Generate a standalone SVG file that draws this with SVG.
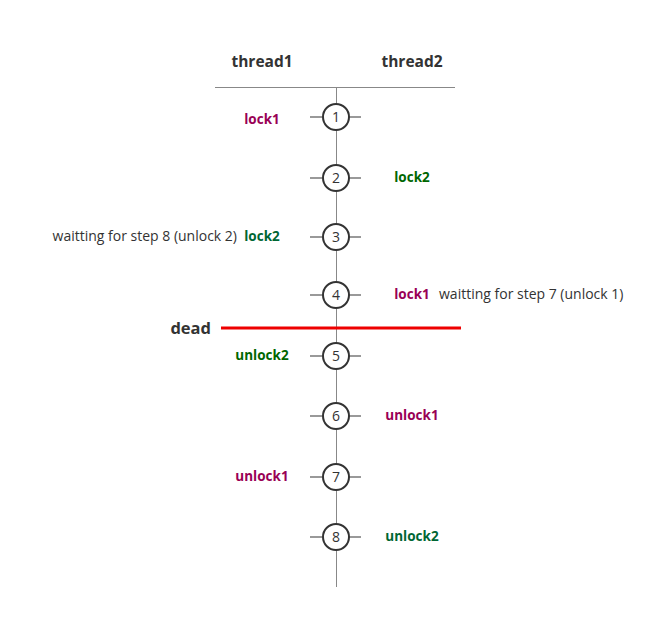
<svg xmlns="http://www.w3.org/2000/svg" width="660" height="620" viewBox="0 0 660 620">
<style>
text{font-family:"Open Sans","Noto Sans","DejaVu Sans",sans-serif}
.hd{font-size:15.5px;font-weight:bold;fill:#333;text-anchor:middle}
.lb{font-size:13.5px;font-weight:bold;text-anchor:middle}
.m{fill:#990055}
.g{fill:#006600}
.g2{fill:#006633}
.w{font-size:14px;fill:#333}
.n{font-size:14px;fill:#333;text-anchor:middle}
.st circle{fill:#fff;stroke:#333;stroke-width:2}
.ax{stroke:#888;stroke-width:1;fill:none}
.tk{stroke:#777;stroke-width:1.5}
</style>
<rect width="660" height="620" fill="#fff"/>
<g id="connectors">
<line class="ax" x1="215" y1="87.5" x2="455" y2="87.5"/>
<line class="ax" x1="336.5" y1="87" x2="336.5" y2="587"/>
<g class="tk">
<line x1="310" y1="117" x2="322" y2="117"/><line x1="349" y1="117" x2="361" y2="117"/>
<line x1="310" y1="178" x2="322" y2="178"/><line x1="349" y1="178" x2="361" y2="178"/>
<line x1="310" y1="237" x2="322" y2="237"/><line x1="349" y1="237" x2="361" y2="237"/>
<line x1="310" y1="295" x2="322" y2="295"/><line x1="349" y1="295" x2="361" y2="295"/>
<line x1="310" y1="356" x2="322" y2="356"/><line x1="349" y1="356" x2="361" y2="356"/>
<line x1="310" y1="416" x2="322" y2="416"/><line x1="349" y1="416" x2="361" y2="416"/>
<line x1="310" y1="477" x2="322" y2="477"/><line x1="349" y1="477" x2="361" y2="477"/>
<line x1="310" y1="537" x2="322" y2="537"/><line x1="349" y1="537" x2="361" y2="537"/>
</g>
<line x1="221" y1="328" x2="461" y2="328" stroke="#e00" stroke-width="3"/>
</g>
<g id="headers">
<text class="hd" x="262" y="67">thread1</text>
<text class="hd" x="412" y="67">thread2</text>
<text x="211" y="334" font-size="16.5" font-weight="bold" fill="#333" text-anchor="end">dead</text>
</g>
<g id="step1" class="st"><circle cx="336" cy="117" r="13"/><text class="n" x="336" y="122">1</text><text class="lb m" x="262" y="124">lock1</text></g>
<g id="step2" class="st"><circle cx="336" cy="178" r="13"/><text class="n" x="336" y="183">2</text><text class="lb g" x="412" y="182">lock2</text></g>
<g id="step3" class="st"><circle cx="336" cy="237" r="13"/><text class="n" x="336" y="242">3</text><text class="lb g2" x="262" y="241">lock2</text><text class="w" x="237" y="241" text-anchor="end">waitting for step 8 (unlock 2)</text></g>
<g id="step4" class="st"><circle cx="336" cy="295" r="13"/><text class="n" x="336" y="300">4</text><text class="lb m" x="412" y="299">lock1</text><text class="w" x="439" y="299">waitting for step 7 (unlock 1)</text></g>
<g id="step5" class="st"><circle cx="336" cy="356" r="13"/><text class="n" x="336" y="361">5</text><text class="lb g" x="262" y="360">unlock2</text></g>
<g id="step6" class="st"><circle cx="336" cy="416" r="13"/><text class="n" x="336" y="421">6</text><text class="lb m" x="412" y="420">unlock1</text></g>
<g id="step7" class="st"><circle cx="336" cy="477" r="13"/><text class="n" x="336" y="482">7</text><text class="lb m" x="262" y="481">unlock1</text></g>
<g id="step8" class="st"><circle cx="336" cy="537" r="13"/><text class="n" x="336" y="542">8</text><text class="lb g2" x="412" y="541">unlock2</text></g>
</svg>
